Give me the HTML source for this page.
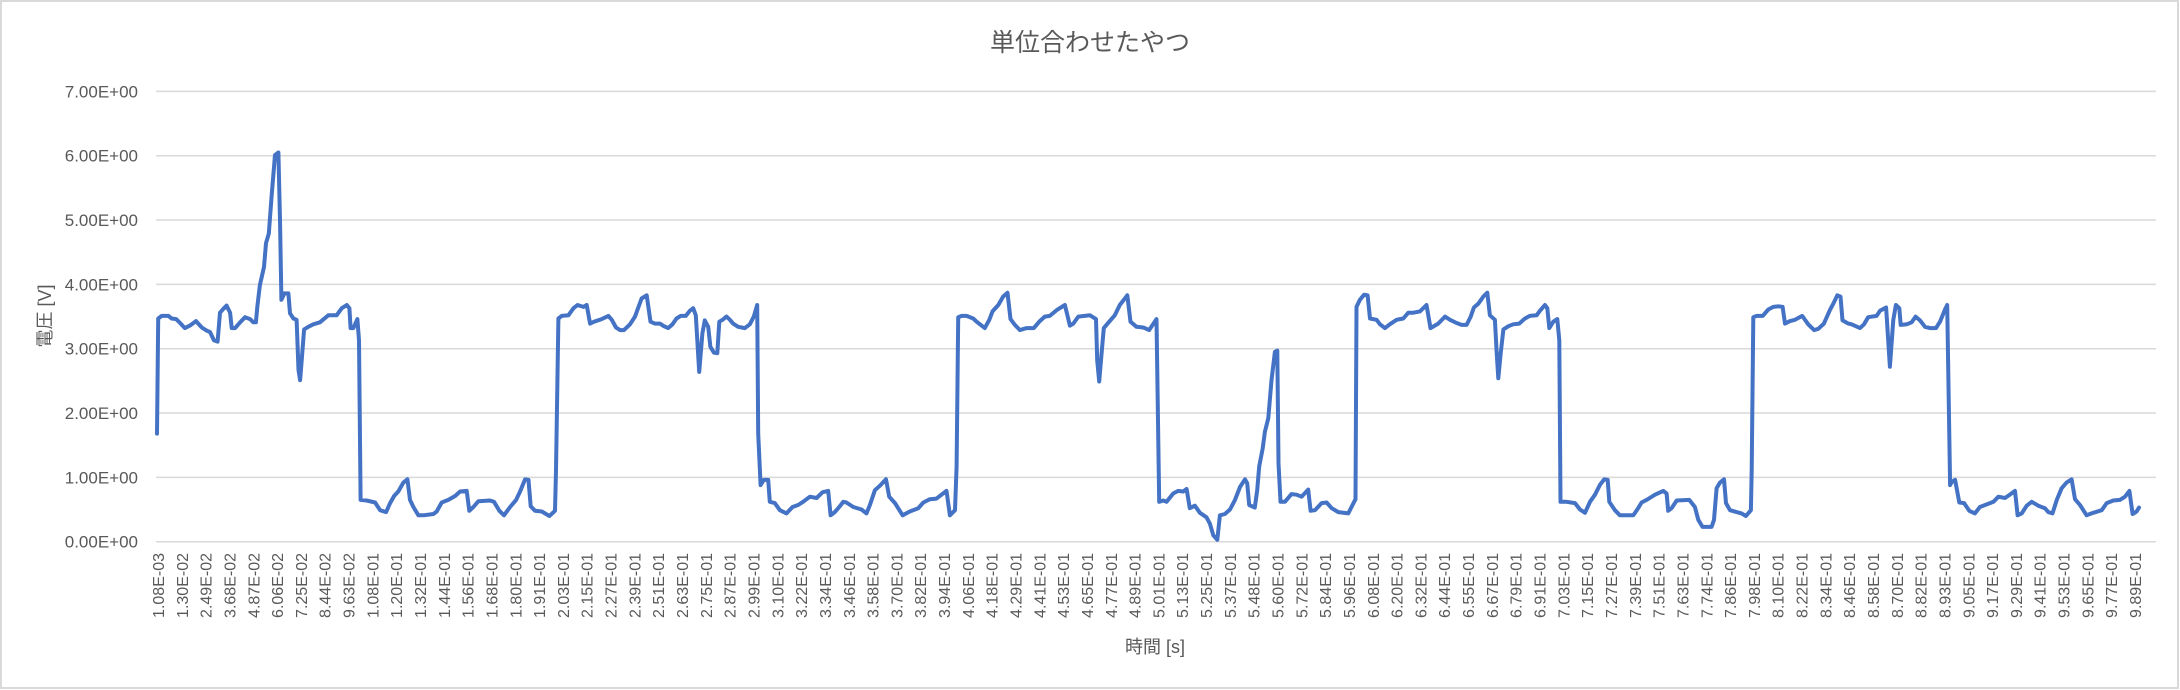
<!DOCTYPE html>
<html><head><meta charset="utf-8">
<style>
html,body{margin:0;padding:0;background:#fff;}
svg{display:block;}
text{font-family:"Liberation Sans","Noto Sans CJK JP",sans-serif;fill:#595959;}
</style></head>
<body>
<svg id="chart" width="2180" height="690" viewBox="0 0 2180 690" xmlns="http://www.w3.org/2000/svg">
<rect x="1" y="1" width="2177" height="687" fill="#fff" stroke="#d9d9d9" stroke-width="2"/>
<text x="1090" y="51" font-size="25" text-anchor="middle">単位合わせたやつ</text>
<text transform="translate(51,316) rotate(-90)" font-size="18" text-anchor="middle">電圧 [V]</text>
<text x="1155" y="653" font-size="18" text-anchor="middle">時間 [s]</text>
<g id="grid"></g>
<g id="yticks"></g>
<g id="xticks"></g>
<g id="series"></g>
</svg>
<script>
const yTicks=[0,1,2,3,4,5,6,7];
const yTickLabels=["0.00E+00","1.00E+00","2.00E+00","3.00E+00","4.00E+00","5.00E+00","6.00E+00","7.00E+00"];
const xTickLabels=["1.08E-03","1.30E-02","2.49E-02","3.68E-02","4.87E-02","6.06E-02","7.25E-02","8.44E-02","9.63E-02","1.08E-01","1.20E-01","1.32E-01","1.44E-01","1.56E-01","1.68E-01","1.80E-01","1.91E-01","2.03E-01","2.15E-01","2.27E-01","2.39E-01","2.51E-01","2.63E-01","2.75E-01","2.87E-01","2.99E-01","3.10E-01","3.22E-01","3.34E-01","3.46E-01","3.58E-01","3.70E-01","3.82E-01","3.94E-01","4.06E-01","4.18E-01","4.29E-01","4.41E-01","4.53E-01","4.65E-01","4.77E-01","4.89E-01","5.01E-01","5.13E-01","5.25E-01","5.37E-01","5.48E-01","5.60E-01","5.72E-01","5.84E-01","5.96E-01","6.08E-01","6.20E-01","6.32E-01","6.44E-01","6.55E-01","6.67E-01","6.79E-01","6.91E-01","7.03E-01","7.15E-01","7.27E-01","7.39E-01","7.51E-01","7.63E-01","7.74E-01","7.86E-01","7.98E-01","8.10E-01","8.22E-01","8.34E-01","8.46E-01","8.58E-01","8.70E-01","8.82E-01","8.93E-01","9.05E-01","9.17E-01","9.29E-01","9.41E-01","9.53E-01","9.65E-01","9.77E-01","9.89E-01"];
const timeMs=[1.08,1.7,3.4,6.7,8.4,10.6,12.6,15.0,17.5,20.5,23.4,25.9,27.5,29.5,31.3,32.5,34.2,35.8,37.5,38.3,40.0,42.5,45.0,47.5,49.1,50.4,51.1,52.4,54.4,55.4,56.8,58.3,59.9,61.6,62.4,63.1,64.6,66.6,67.4,69.1,70.7,71.6,72.4,73.2,74.4,76.5,79.0,82.3,86.5,90.6,93.2,95.7,97.0,97.6,99.0,101.0,101.8,102.6,105.6,109.8,112.3,115.3,117.3,119.3,121.4,123.9,125.9,127.2,128.9,131.4,133.9,138.9,140.5,143.0,146.3,149.7,152.2,155.5,156.8,158.8,161.3,167.1,169.1,171.8,174.1,177.1,180.1,182.1,184.6,186.3,187.4,189.6,192.9,196.7,199.5,200.0,201.2,202.9,206.2,208.7,210.7,213.7,215.3,217.0,219.0,222.8,226.1,227.8,229.9,231.9,233.9,236.9,239.4,242.7,245.2,247.1,249.3,251.8,253.8,255.9,258.1,260.1,262.1,264.7,266.7,268.4,269.7,271.4,273.0,274.2,275.9,277.0,278.7,280.4,281.4,283.0,285.0,286.7,288.3,290.8,294.2,296.6,298.6,300.3,300.8,302.0,303.6,305.8,306.6,309.1,311.6,314.9,317.9,320.7,323.2,326.6,329.9,332.9,335.7,336.9,339.0,341.5,343.2,344.8,348.2,352.3,354.8,356.5,359.0,361.5,364.5,366.1,369.0,372.8,376.4,380.6,383.1,386.4,389.7,392.2,394.7,396.4,398.9,399.7,400.5,402.2,404.7,408.0,409.7,413.8,416.0,417.6,420.5,422.9,425.1,426.6,428.8,431.3,434.6,438.2,441.2,443.7,446.2,449.6,453.7,456.2,457.9,460.4,466.2,469.2,469.8,470.8,472.0,473.1,475.8,478.6,481.1,484.8,486.4,489.4,492.8,495.7,499.4,500.7,502.7,504.4,507.7,510.2,512.7,514.4,516.0,518.5,521.0,524.3,526.0,527.7,529.7,531.0,533.5,536.0,538.5,541.0,543.5,544.6,545.6,548.4,549.6,550.6,552.3,553.4,555.1,556.7,558.4,559.6,560.2,561.2,563.4,566.7,569.2,571.7,575.0,576.2,578.4,581.7,584.2,586.7,590.0,595.0,596.6,598.6,599.1,600.8,602.9,604.6,605.8,609.1,610.8,613.3,615.7,619.1,622.4,624.9,627.4,630.7,634.0,636.0,639.8,643.2,645.7,649.0,651.5,654.0,656.0,657.6,659.8,662.3,664.3,665.6,668.1,669.0,669.8,671.0,672.3,674.8,677.2,680.2,683.1,685.5,688.9,690.5,693.0,694.2,695.2,697.2,699.2,700.2,700.8,703.8,708.0,710.5,713.0,715.5,718.0,720.4,722.6,724.3,725.1,727.9,730.4,737.1,739.1,741.2,743.7,747.9,752.0,753.7,754.5,756.2,758.7,765.0,767.8,769.5,771.6,776.1,777.3,778.6,780.3,782.3,783.3,785.3,788.6,791.1,793.2,795.7,796.1,796.9,798.6,801.6,804.4,806.9,809.4,811.5,812.7,815.2,817.7,821.3,824.3,827.2,829.3,832.1,835.1,836.8,838.8,840.4,841.4,844.3,845.9,850.1,852.1,854.2,858.4,860.1,863.1,865.0,866.7,868.0,869.7,870.4,873.4,875.9,877.8,880.0,882.5,885.0,888.0,890.0,892.5,893.6,895.0,895.8,897.5,899.6,902.0,904.6,907.4,909.9,914.1,916.6,919.1,922.4,925.2,927.4,928.7,930.7,933.2,935.7,939.0,942.3,944.0,946.1,948.2,950.6,953.1,955.6,957.3,959.8,963.1,966.4,970.6,973.1,976.4,979.7,982.2,984.4,986.0,988.0,989.2];
const volts=[1.68,3.47,3.51,3.51,3.47,3.46,3.40,3.32,3.36,3.43,3.33,3.28,3.26,3.13,3.11,3.56,3.62,3.67,3.56,3.32,3.32,3.41,3.49,3.46,3.41,3.41,3.65,3.99,4.27,4.64,4.79,5.41,6.01,6.05,5.0,3.76,3.86,3.86,3.55,3.47,3.45,2.67,2.51,2.82,3.30,3.34,3.38,3.41,3.52,3.52,3.63,3.68,3.63,3.32,3.32,3.46,3.13,0.65,0.64,0.61,0.49,0.46,0.60,0.71,0.78,0.92,0.97,0.65,0.54,0.41,0.41,0.43,0.47,0.61,0.65,0.71,0.78,0.79,0.48,0.54,0.63,0.64,0.62,0.48,0.41,0.54,0.65,0.78,0.97,0.96,0.55,0.48,0.47,0.40,0.48,1.11,3.47,3.51,3.52,3.63,3.68,3.65,3.68,3.39,3.42,3.46,3.51,3.45,3.33,3.29,3.29,3.38,3.50,3.78,3.83,3.42,3.39,3.39,3.35,3.32,3.38,3.47,3.51,3.51,3.59,3.63,3.52,2.64,3.24,3.44,3.34,3.03,2.94,2.93,3.42,3.45,3.50,3.45,3.39,3.34,3.32,3.38,3.50,3.68,1.68,0.88,0.96,0.96,0.62,0.60,0.49,0.44,0.54,0.57,0.62,0.70,0.68,0.77,0.79,0.41,0.46,0.55,0.62,0.61,0.54,0.50,0.44,0.57,0.80,0.87,0.97,0.70,0.60,0.41,0.47,0.52,0.61,0.66,0.67,0.73,0.79,0.41,0.49,1.17,3.49,3.51,3.51,3.47,3.42,3.32,3.45,3.58,3.68,3.81,3.87,3.46,3.37,3.29,3.32,3.32,3.43,3.50,3.51,3.60,3.68,3.36,3.39,3.50,3.52,3.46,2.82,2.49,2.93,3.32,3.42,3.52,3.68,3.83,3.42,3.34,3.33,3.29,3.46,0.62,0.64,0.62,0.75,0.79,0.78,0.82,0.52,0.56,0.45,0.38,0.28,0.10,0.03,0.41,0.43,0.50,0.65,0.85,0.97,0.91,0.57,0.53,0.80,1.17,1.45,1.71,1.92,2.51,2.95,2.97,1.22,0.62,0.62,0.74,0.73,0.70,0.81,0.48,0.49,0.60,0.61,0.52,0.46,0.44,0.54,0.66,3.65,3.76,3.84,3.83,3.47,3.45,3.38,3.32,3.38,3.45,3.47,3.56,3.56,3.58,3.68,3.32,3.39,3.50,3.45,3.40,3.37,3.37,3.50,3.64,3.70,3.81,3.87,3.52,3.45,2.93,2.54,2.93,3.30,3.35,3.38,3.39,3.47,3.51,3.52,3.59,3.68,3.63,3.32,3.42,3.46,3.13,0.62,0.62,0.60,0.50,0.45,0.62,0.73,0.88,0.97,0.96,0.62,0.49,0.41,0.41,0.50,0.61,0.65,0.73,0.79,0.75,0.48,0.52,0.64,0.65,0.54,0.34,0.23,0.23,0.34,0.83,0.92,0.97,0.60,0.49,0.46,0.44,0.40,0.49,1.11,3.49,3.51,3.51,3.61,3.65,3.66,3.65,3.39,3.43,3.45,3.51,3.38,3.29,3.31,3.39,3.60,3.70,3.83,3.81,3.44,3.39,3.38,3.32,3.38,3.49,3.51,3.59,3.64,2.72,3.45,3.68,3.63,3.37,3.38,3.41,3.50,3.44,3.34,3.32,3.32,3.42,3.61,3.68,0.88,0.93,0.96,0.61,0.60,0.48,0.44,0.54,0.59,0.62,0.70,0.68,0.74,0.79,0.41,0.44,0.56,0.62,0.56,0.52,0.46,0.44,0.65,0.83,0.92,0.97,0.66,0.57,0.41,0.45,0.49,0.60,0.64,0.65,0.70,0.79,0.43,0.47,0.53];

const NS="http://www.w3.org/2000/svg";
const plotL=156,plotR=2156,plotT=91.4,plotB=541.7;
const dataX0=157,dataX1=2139,tMin=1.08,tMax=989.2;
function yScale(v){return plotB-(v/7)*(plotB-plotT);}
function xScale(t){return dataX0+(t-tMin)/(tMax-tMin)*(dataX1-dataX0);}
function labelX(i){return 158+i*(2135-158)/(xTickLabels.length-1);}

const grid=document.getElementById('grid');
const yt=document.getElementById('yticks');
yTicks.forEach((v,i)=>{
  const l=document.createElementNS(NS,'line');
  
  
  l.setAttribute('x1',plotL);l.setAttribute('x2',plotR);
  l.setAttribute('y1',yScale(v));l.setAttribute('y2',yScale(v));
  l.setAttribute('stroke','#d9d9d9');l.setAttribute('stroke-width','1.5');
  grid.appendChild(l);
  const t=document.createElementNS(NS,'text');
  
  
  t.setAttribute('x',138);t.setAttribute('y',yScale(v)+6);
  t.setAttribute('text-anchor','end');t.setAttribute('font-size','17');
  t.textContent=yTickLabels[i];
  yt.appendChild(t);
});
const xt=document.getElementById('xticks');
xTickLabels.forEach((s,i)=>{
  const t=document.createElementNS(NS,'text');
  
  
  const x=labelX(i)+6,y=553;
  t.setAttribute('transform','translate('+x+','+y+') rotate(-90)');
  t.setAttribute('text-anchor','end');t.setAttribute('font-size','16');
  t.textContent=s;
  xt.appendChild(t);
});
const ser=document.getElementById('series');
const p=document.createElementNS(NS,'path');


let d='';
for(let i=0;i<volts.length;i++){d+=(i?'L':'M')+xScale(timeMs[i]).toFixed(1)+','+yScale(volts[i]).toFixed(1);}
p.setAttribute('d',d);
p.setAttribute('fill','none');p.setAttribute('stroke','#4472C4');
p.setAttribute('stroke-width','4');p.setAttribute('stroke-linejoin','round');p.setAttribute('stroke-linecap','round');
ser.appendChild(p);
</script>
</body></html>
